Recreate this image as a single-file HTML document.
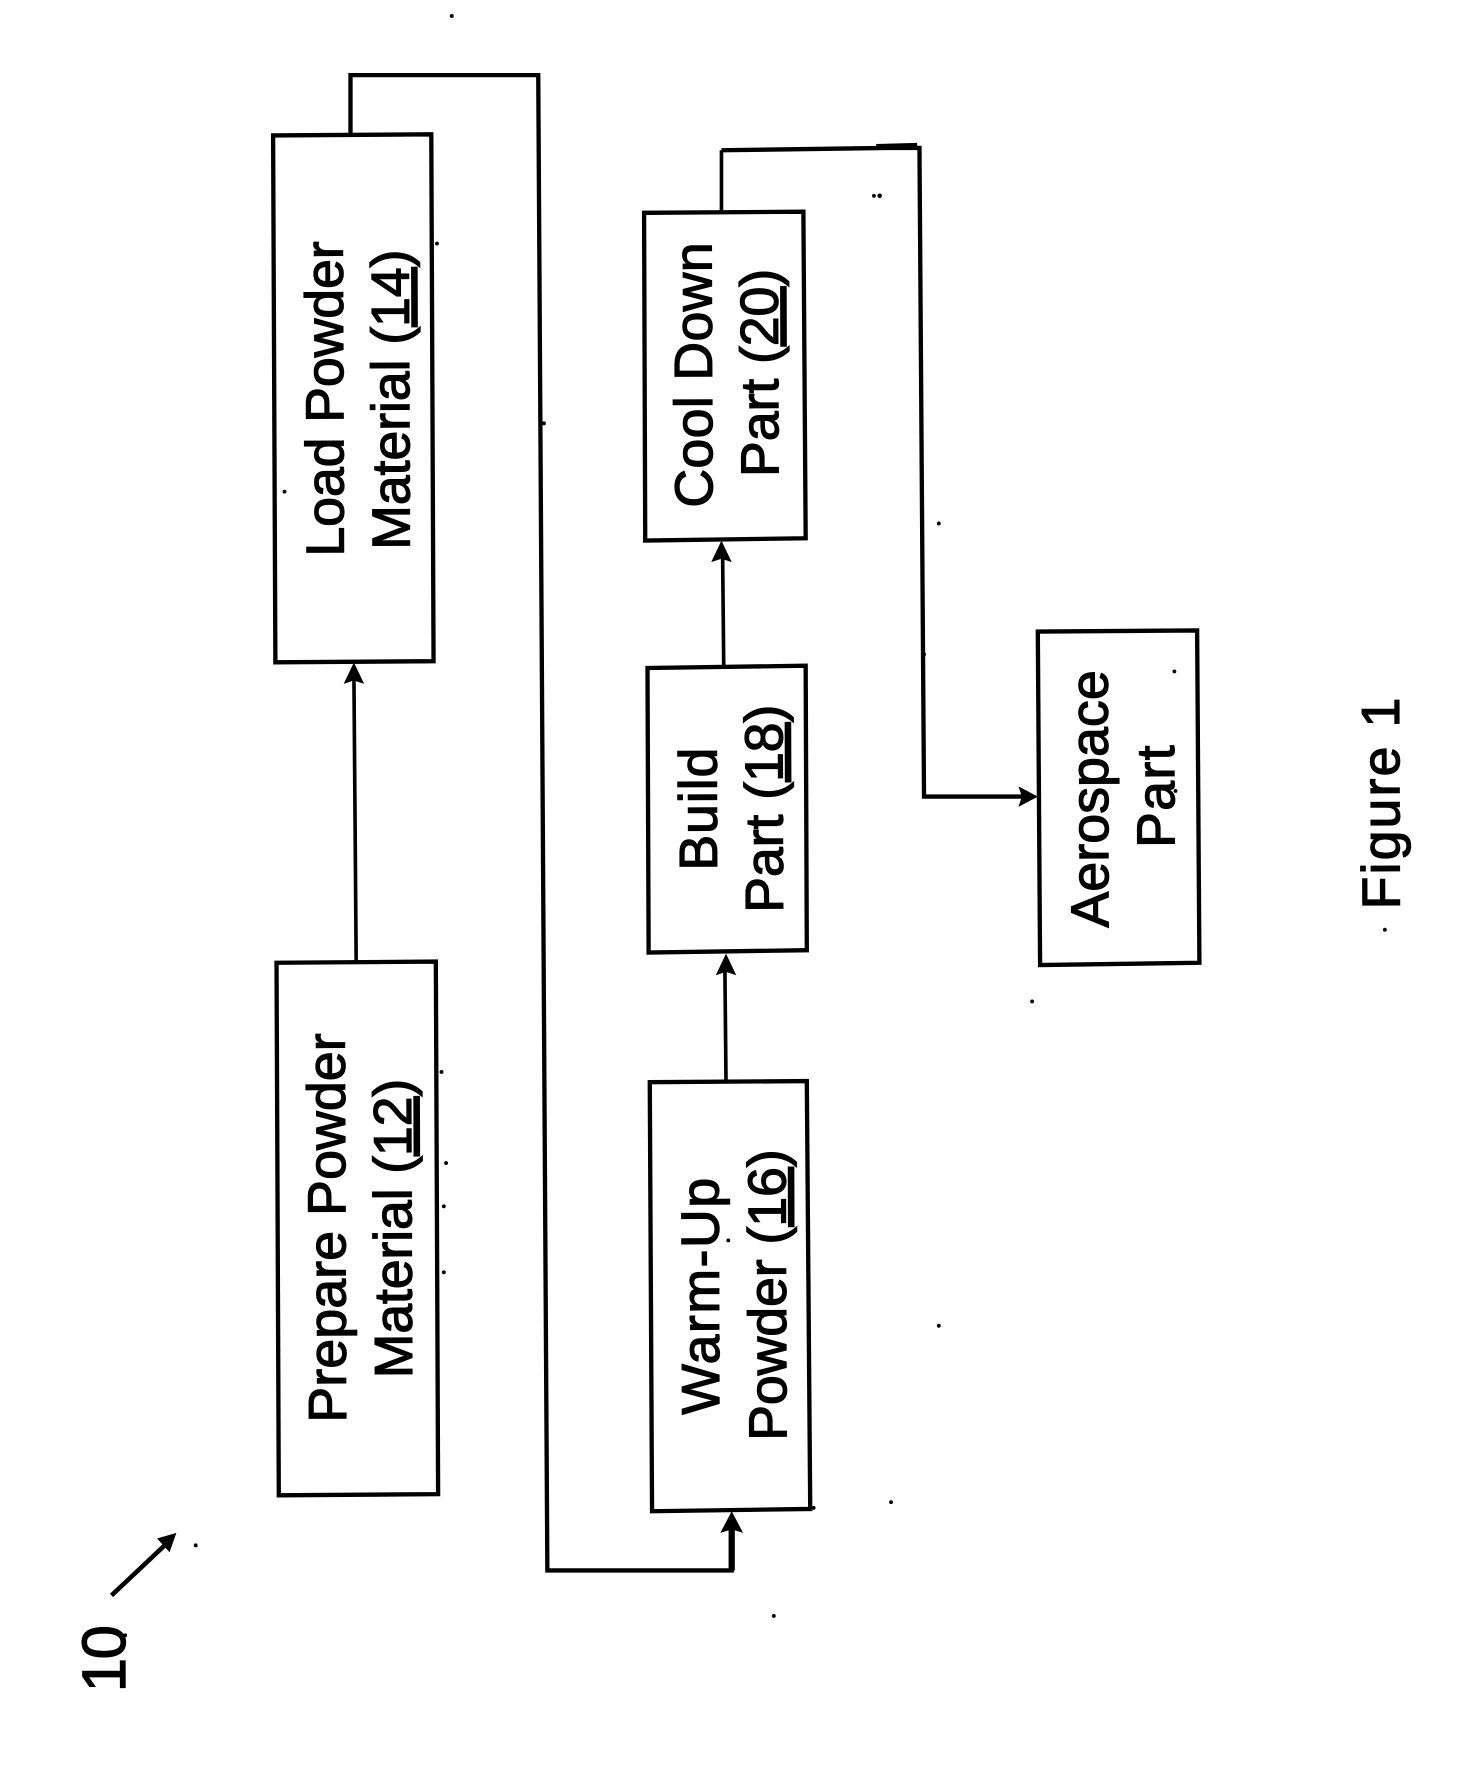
<!DOCTYPE html>
<html><head><meta charset="utf-8"><style>
html,body{margin:0;padding:0;background:#fff}
svg{display:block}
text{font-family:"Liberation Sans",sans-serif;font-size:47px;fill:#000;stroke:#000;stroke-width:1.1px;text-decoration-thickness:3px}
.b{fill:none;stroke:#000;stroke-width:3.8}
.l{fill:none;stroke:#000;stroke-width:3.8}
.t{fill:none;stroke:#000;stroke-width:3.2}
.a{fill:#000;stroke:none}
</style></head><body>
<svg width="1465" height="1783" viewBox="0 0 1287.4 1566.8" xmlns="http://www.w3.org/2000/svg">
<rect width="1287.4" height="1566.8" fill="#fff"/>
<polygon class="b" points="240,119 379,118 381,581 242,582"/>
<polygon class="b" points="243,846 383,845 385,1313 245,1314"/>
<polygon class="b" points="571,951 709,950 712,1326 573,1328"/>
<polygon class="b" points="569,587 708,585 709,835 570,837"/>
<polygon class="b" points="566,187 706,186 708,473 567,475"/>
<polygon class="b" points="912,555 1052,554 1054,846 914,848"/>
<path class="t" d="M313,846 L311,592"/>
<polygon class="a" points="311,582 320,601 311,598 302,601"/>
<path class="l" d="M308,118 L308,66 L473,66 L481,1380 L643,1380 L643,1340"/>
<path d="M643,1380 L643,1342" fill="none" stroke="#000" stroke-width="5.5"/>
<polygon class="a" points="643,1328 653,1347 643,1344 633,1347"/>
<path class="t" d="M638,951 L637,850"/>
<polygon class="a" points="638,838 647,857 638,854 629,857"/>
<path class="t" d="M636,586 L635,486"/>
<polygon class="a" points="634,475 643,494 634,491 625,494"/>
<path class="t" d="M634,186 L634,132"/>
<path class="l" d="M634,132 L780,130 L808,130 L812,700 L900,700"/>
<path d="M770,129 L806,128" stroke="#000" stroke-width="5" fill="none"/>
<polygon class="a" points="912,700 895,691 898,700 895,709"/>
<path d="M98,1402 L150,1353" fill="none" stroke="#000" stroke-width="4"/>
<polygon class="a" points="155,1347 149,1364 138,1352"/>
<g>
<text transform="translate(302,489) rotate(-90.2)" textLength="277">Load Powder</text>
<text transform="translate(360,483) rotate(-90.2)">Material (<tspan text-decoration="underline">14</tspan>)</text>
<text transform="translate(304,1250) rotate(-90.2)" textLength="342">Prepare Powder</text>
<text transform="translate(362,1211) rotate(-90.2)" textLength="263">Material (<tspan text-decoration="underline">12</tspan>)</text>
<text transform="translate(632,1243) rotate(-90.2)" textLength="208">Warm-Up</text>
<text transform="translate(691,1266) rotate(-90.2)" textLength="256">Powder (<tspan text-decoration="underline">16</tspan>)</text>
<text transform="translate(630,765) rotate(-90.2)" textLength="108">Build</text>
<text transform="translate(688,802) rotate(-90.2)">Part (<tspan text-decoration="underline">18</tspan>)</text>
<text transform="translate(626,446) rotate(-90.2)" textLength="233">Cool Down</text>
<text transform="translate(684,419) rotate(-90.2)">Part (<tspan text-decoration="underline">20</tspan>)</text>
<text transform="translate(974,815) rotate(-90.2)" textLength="226">Aerospace</text>
<text transform="translate(1032,745) rotate(-90.2)" textLength="90">Part</text>
<text transform="translate(1230,799) rotate(-90.2)" textLength="186">Figure 1</text>
<text transform="translate(110,1487) rotate(-90.2)" style="font-size:54px" textLength="59">10</text>
</g>
<g fill="#000">
<circle cx="397" cy="14" r="1.7"/><circle cx="1217" cy="817" r="1.7"/><circle cx="773" cy="172" r="2"/><circle cx="768" cy="172" r="1.7"/>
<circle cx="825" cy="460" r="1.7"/><circle cx="907" cy="880" r="1.7"/><circle cx="825" cy="1165" r="1.7"/><circle cx="172" cy="1358" r="1.7"/>
<circle cx="110" cy="1437" r="1.7"/><circle cx="392" cy="1022" r="1.7"/><circle cx="390" cy="1060" r="1.7"/><circle cx="390" cy="1118" r="1.7"/>
<circle cx="388" cy="942" r="1.7"/><circle cx="478" cy="372" r="1.7"/><circle cx="384" cy="214" r="1.7"/><circle cx="812" cy="575" r="1.7"/>
<circle cx="640" cy="1090" r="1.7"/><circle cx="1033" cy="695" r="1.7"/><circle cx="1032" cy="590" r="1.7"/><circle cx="783" cy="1320" r="1.7"/>
<circle cx="715" cy="1325" r="1.7"/><circle cx="680" cy="1420" r="1.7"/><circle cx="250" cy="432" r="1.7"/>
</g>
</svg>
</body></html>
